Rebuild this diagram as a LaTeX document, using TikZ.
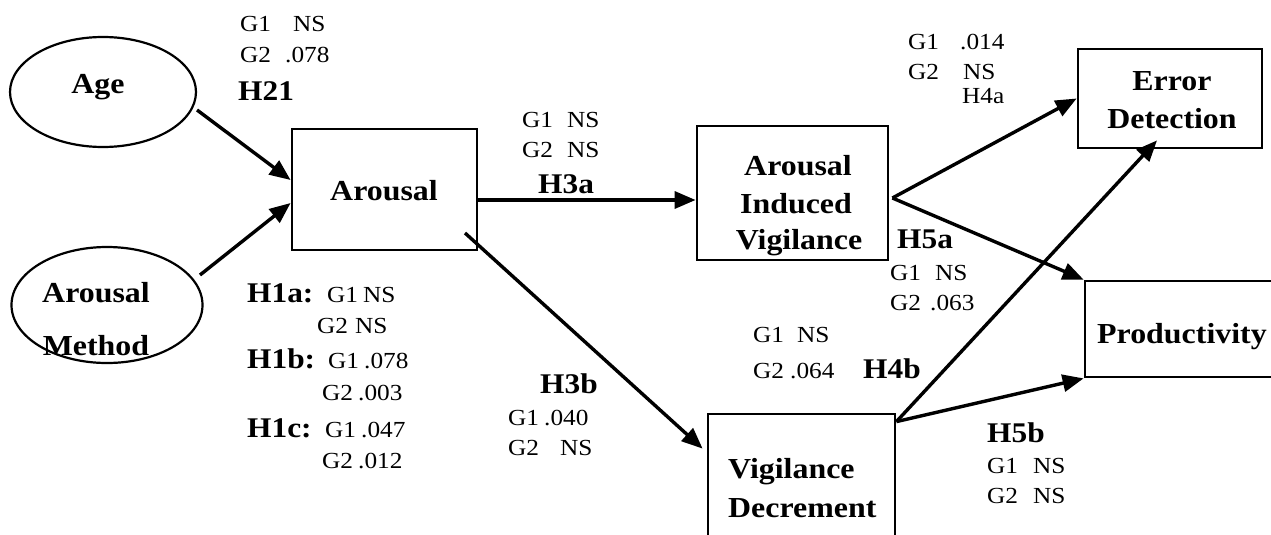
\documentclass[tikz,border=0pt]{standalone}
\usepackage{fontspec}
\setmainfont[FakeStretch=1.1]{Liberation Serif}
\usetikzlibrary{arrows.meta,calc,shapes.geometric}
\newcommand\gval[3]{\makebox[#1pt][l]{#2}#3}
\begin{document}
\begin{tikzpicture}[x=1pt,y=-1pt,
  box/.style={draw,line width=2.8pt,rectangle,inner sep=0pt},
  oval/.style={draw,line width=2.2pt,ellipse,inner sep=0pt},
  arr/.style={line width=3.4pt,-{Triangle[length=21pt,width=17pt]}},
  nt/.style={font=\fontsize{29}{38}\selectfont\bfseries,inner sep=0pt},
  sm/.style={font=\fontsize{23}{30}\selectfont,inner sep=0pt,anchor=base west},
  hb/.style={font=\fontsize{28.5}{34}\selectfont\bfseries,inner sep=0pt,anchor=base west}]
\useasboundingbox (0,0) rectangle (1271,535);
\clip (0,0) rectangle (1271,535);

% nodes
\node[oval,minimum width=186pt,minimum height=110pt] (age) at (103,92) {};
\node[nt,anchor=base] (aget) at (98,93) {Age};
\node[box,minimum width=185pt,minimum height=121pt] (ar) at (384.5,189.5) {};
\node[nt,anchor=base] (art) at (384,200) {Arousal};
\node[oval,minimum width=191pt,minimum height=116pt] (am) at (107,305) {};
\node[nt,anchor=base] (amt1) at (96,302) {Arousal};
\node[nt,anchor=base] (amt2) at (96,355) {Method};
\node[box,minimum width=191pt,minimum height=134pt] (aiv) at (792.5,193) {};
\node[nt,anchor=base] (aiv1) at (798,175) {Arousal};
\node[nt,anchor=base] (aiv2) at (796,213) {Induced};
\node[nt,anchor=base] (aiv3) at (799,249) {Vigilance};
\node[box,minimum width=184pt,minimum height=99pt] (ed) at (1170,98.5) {};
\node[nt,anchor=base] (ed1) at (1172,90) {Error};
\node[nt,anchor=base] (ed2) at (1172,128) {Detection};
\node[box,minimum width=215pt,minimum height=96pt] (prod) at (1192.5,329) {};
\node[nt,anchor=base west] (prodt) at (1097,343) {Productivity};
\node[box,minimum width=187pt,minimum height=131pt] (vd) at (801.5,479.5) {};
\node[nt,anchor=base west] (vd1) at (728,478) {Vigilance};
\node[nt,anchor=base west] (vd2) at (728,517) {Decrement};

% connectors
\draw[arr] ($(age.center)+(94,18)$) -- ($(ar.west)+(0,-9.5)$);
\draw[arr] ($(am.center)+(93,-30)$) -- ($(ar.west)+(0,13.5)$);
\draw[arr] ($(ar.east)+(0,10.5)$) -- ($(aiv.west)+(0,7)$);
\draw[arr] ($(ar.center)+(80.5,43.5)$) -- ($(vd.north west)+(-4,36)$);
\draw[arr] ($(aiv.east)+(3,5)$) -- (ed.west);
\draw[arr] ($(aiv.east)+(3,5)$) -- (prod.north west);
\draw[arr] ($(vd.north east)+(0,9)$) -- ($(ed.south)+(-13,-9)$);
\draw[arr] ($(vd.north east)+(0,9)$) -- (prod.south west);

% labels
\node[sm] (l1) at (240,32) {\gval{53}{G1}{NS}};
\node[sm] (l2) at (240,63) {\gval{45}{G2}{.078}};
\node[hb] (l3) at (238,100) {H21};
\node[sm] (l4) at (522,127) {\gval{45}{G1}{NS}};
\node[sm] (l5) at (522,157) {\gval{45}{G2}{NS}};
\node[hb] (l6) at (538,193) {H3a};
\node[sm] (l7) at (908,50) {\gval{52}{G1}{.014}};
\node[sm] (l8) at (908,79) {\gval{55}{G2}{NS}};
\node[sm,font=\fontsize{23}{30}\selectfont] (l9) at (962,103) {H4a};
\node[hb] (l10) at (897,248) {H5a};
\node[sm] (l11) at (890,280) {\gval{45}{G1}{NS}};
\node[sm] (l12) at (890,310) {\gval{40}{G2}{.063}};
\node[sm] (l13) at (753,342) {\gval{44}{G1}{NS}};
\node[sm] (l14) at (753,378) {\gval{37}{G2}{.064}};
\node[hb] (l15) at (863,378) {H4b};
\node[hb] (l16) at (540,393) {H3b};
\node[sm] (l17) at (508,425) {\gval{36}{G1}{.040}};
\node[sm] (l18) at (508,455) {\gval{52}{G2}{NS}};
\node[hb] (l19) at (987,442) {H5b};
\node[sm] (l20) at (987,473) {\gval{46}{G1}{NS}};
\node[sm] (l21) at (987,503) {\gval{46}{G2}{NS}};
\node[hb] (l22) at (247,302) {H1a:};
\node[sm] (l23) at (327,302) {\gval{36}{G1}{NS}};
\node[sm] (l24) at (317,333) {\gval{38}{G2}{NS}};
\node[hb] (l25) at (247,368) {H1b:};
\node[sm] (l26) at (328,368) {\gval{36}{G1}{.078}};
\node[sm] (l27) at (322,400) {\gval{36}{G2}{.003}};
\node[hb] (l28) at (247,437) {H1c:};
\node[sm] (l29) at (325,437) {\gval{36}{G1}{.047}};
\node[sm] (l30) at (322,468) {\gval{36}{G2}{.012}};
\end{tikzpicture}
\end{document}
